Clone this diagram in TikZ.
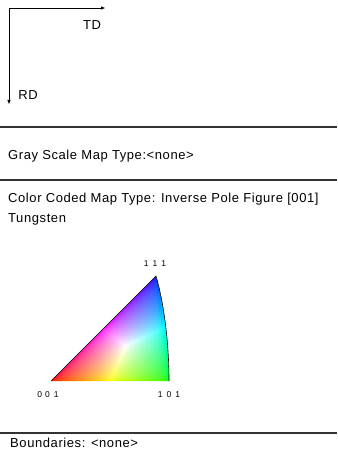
\documentclass[tikz,border=0pt]{standalone}
\usepackage{fontspec}
\setmainfont[LetterSpace=4.5]{Liberation Sans}
\usetikzlibrary{arrows.meta}

\tikzset{
  info/.style={anchor=west,inner sep=0pt,font=\fontsize{13}{15}\selectfont},
  hkl/.style={inner sep=0pt,font=\fontsize{8.5}{10}\selectfont},
  sep/.style={line width=1.2pt,black!80}
}

\begin{document}
\begin{tikzpicture}[x=1pt,y=-1pt,>={Triangle[length=4pt,width=3pt]}]
\useasboundingbox (0,0) rectangle (337,462);
% sample axes
\coordinate (org) at (9,8);
\coordinate (tdtip) at (105,8);
\coordinate (rdtip) at (9,104);
\draw[->,line width=0.9pt] (org) -- (tdtip);
\draw[->,line width=0.9pt] (org) -- (rdtip);
\node[inner sep=0pt,font=\fontsize{13}{15}\selectfont] (td) at (92,25) {TD};
\node[inner sep=0pt,font=\fontsize{13}{15}\selectfont] (rd) at (28,95) {RD};

% separators
\draw[sep] (0,127) -- (337,127);
\draw[sep] (0,180) -- (337,180);
\draw[sep] (0,433) -- (337,433);

\node[info] (gray) at (8,156) {Gray Scale Map Type:<none>};
\node[info] (ccmap) at (8,199) {Color Coded Map Type: Inverse Pole Figure [001]};
\node[info] (phase) at (8,219) {Tungsten};
\node[info] (bnd) at (10,443) {Boundaries: <none>};

% standard triangle
\coordinate (p001) at (51,381);
\coordinate (p101) at (169,381);
\coordinate (p111) at (156,276);
\begin{scope}
\clip (p001) -- (p111) .. controls (162,296) and (169,335) .. (p101) -- cycle;
\foreach \i in {0,...,59}{
  \foreach \j in {0,...,53}{
    \pgfmathsetmacro\px{51+2*\i+1}
    \pgfmathsetmacro\py{276+2*\j+1}
    \pgfmathsetmacro\wb{(381-\py)/105}
    \pgfmathsetmacro\wg{(\px-51-105*\wb)/118}
    \pgfmathsetmacro\wr{max(0,1-\wg-\wb)}
    \pgfmathsetmacro\wg{max(0,\wg)}
    \pgfmathsetmacro\wb{max(0,\wb)}
    \pgfmathsetmacro\wm{max(\wr,\wg,\wb)}
    \pgfmathsetmacro\cr{min(1,(\wr/\wm)^0.5)}
    \pgfmathsetmacro\cg{min(1,(\wg/\wm)^0.5)}
    \pgfmathsetmacro\cb{min(1,(\wb/\wm)^0.5)}
    \definecolor{ipf}{rgb}{\cr,\cg,\cb}
    \fill[ipf] ({\px-1.25},{\py-1.25}) rectangle ({\px+1.25},{\py+1.25});
  }
}
\end{scope}
\draw[line width=0.6pt] (p001) -- (p111) .. controls (162,296) and (169,335) .. (p101);

\node[hkl] (l111) at (155,264) {1\hspace{4pt}1\hspace{4pt}1};
\node[hkl] (l001) at (48,395) {0\hspace{3pt}0\hspace{4pt}1};
\node[hkl] (l101) at (169,395) {1\hspace{4pt}0\hspace{4pt}1};
\end{tikzpicture}
\end{document}
